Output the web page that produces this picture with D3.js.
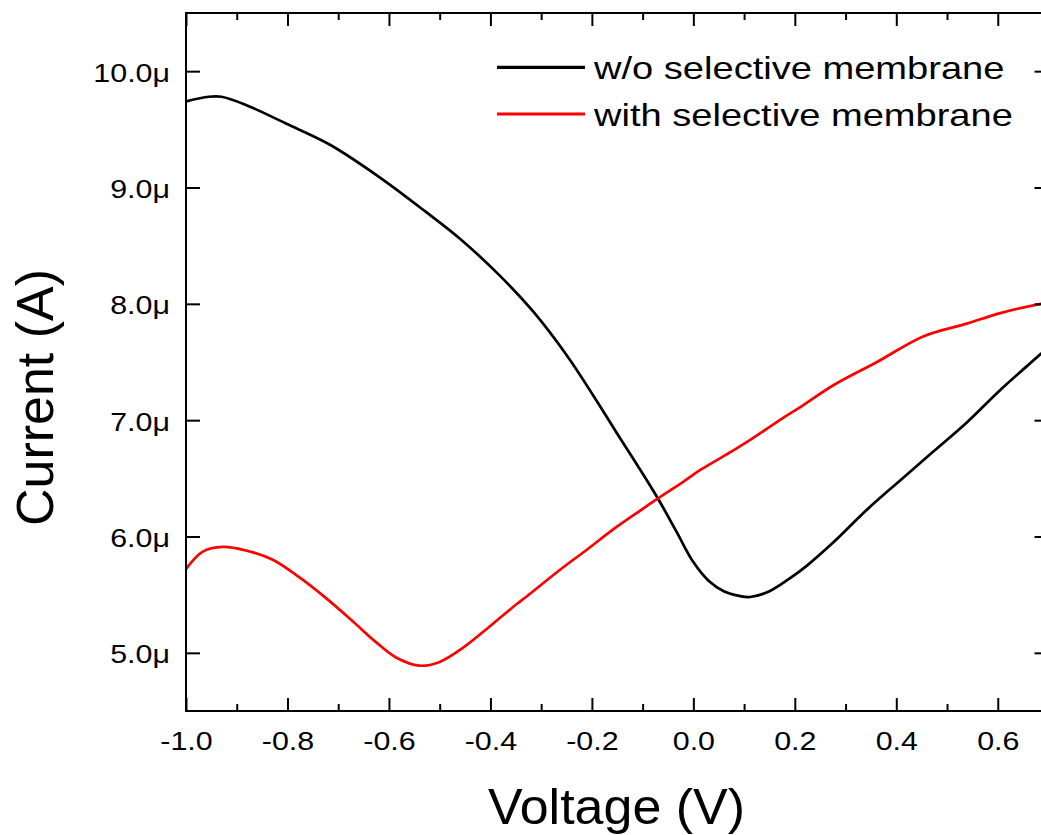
<!DOCTYPE html>
<html>
<head>
<meta charset="utf-8">
<script src="https://cdn.jsdelivr.net/npm/d3@7"></script>
<style>
  html, body { margin: 0; padding: 0; background: #fff; }
  svg { display: block; font-family: "Liberation Sans", Arial, sans-serif; }
</style>
</head>
<body>
<svg id="chart" width="1041" height="835"></svg>
<script>
// ---------- data ----------
const seriesNames = ["w/o selective membrane", "with selective membrane"];
const seriesColors = ["#000000", "#ff0000"];

const voltageWithout = [-1.000, -0.955, -0.930, -0.882, -0.803, -0.717, -0.619, -0.527, -0.460, -0.381, -0.315, -0.250, -0.197, -0.151, -0.110, -0.069, -0.033, 0.000, 0.030, 0.060, 0.090, 0.112, 0.150, 0.190, 0.224, 0.276, 0.342, 0.407, 0.473, 0.539, 0.605, 0.685, 0.700];
const currentWithout = [9.74, 9.78, 9.78, 9.71, 9.55, 9.37, 9.09, 8.79, 8.56, 8.24, 7.93, 7.56, 7.21, 6.89, 6.61, 6.32, 6.04, 5.78, 5.62, 5.53, 5.49, 5.48, 5.53, 5.64, 5.75, 5.95, 6.23, 6.48, 6.73, 6.98, 7.26, 7.57, 7.63];

const voltageWith = [-1.000, -0.967, -0.928, -0.882, -0.829, -0.777, -0.724, -0.671, -0.625, -0.586, -0.540, -0.501, -0.455, -0.395, -0.348, -0.330, -0.264, -0.212, -0.152, -0.099, -0.069, -0.020, 0.013, 0.079, 0.112, 0.177, 0.210, 0.276, 0.362, 0.453, 0.539, 0.605, 0.685, 0.700];
const currentWith = [5.72, 5.87, 5.91, 5.88, 5.80, 5.65, 5.47, 5.27, 5.09, 4.96, 4.89, 4.92, 5.04, 5.25, 5.42, 5.48, 5.71, 5.88, 6.08, 6.24, 6.33, 6.47, 6.57, 6.74, 6.83, 7.02, 7.11, 7.30, 7.50, 7.72, 7.83, 7.92, 8.00, 8.01];

const xMajorTicks = [-1.0, -0.8, -0.6, -0.4, -0.2, 0.0, 0.2, 0.4, 0.6];
const xMinorTicks = [-0.9, -0.7, -0.5, -0.3, -0.1, 0.1, 0.3, 0.5, 0.7];
const yTicks = [5, 6, 7, 8, 9, 10];
const xDomain = [-1.0, 0.7];
const yDomain = [4.5, 10.5];
const xTitle = "Voltage (V)";
const yTitle = "Current (A)";

// ---------- layout ----------
const svg = d3.select("#chart");
const mLeft = 186, mRight = 1048.5, mTop = 13, mBottom = 711;
const x = d3.scaleLinear().domain(xDomain).range([mLeft, mRight]);
const y = d3.scaleLinear().domain(yDomain).range([mBottom, mTop]);

const tickFont = 26, tickScale = 1.17;
const fmtX = d => d.toFixed(1);
const fmtY = d => d.toFixed(1) + "\u03bc";

svg.append("defs").append("clipPath").attr("id", "plotclip")
  .append("rect").attr("x", mLeft).attr("y", mTop).attr("width", mRight - mLeft).attr("height", mBottom - mTop);

// series
const series = [
  { name: seriesNames[0], color: seriesColors[0], pts: voltageWithout.map((v, i) => [v, currentWithout[i]]) },
  { name: seriesNames[1], color: seriesColors[1], pts: voltageWith.map((v, i) => [v, currentWith[i]]) }
];
const line = d3.line().x(d => x(d[0])).y(d => y(d[1])).curve(d3.curveCatmullRom.alpha(0.5));
const plot = svg.append("g").attr("clip-path", "url(#plotclip)");
plot.selectAll("path.series").data(series).join("path")
  .attr("class", "series")
  .attr("d", d => line(d.pts))
  .attr("fill", "none")
  .attr("stroke", d => d.color)
  .attr("stroke-width", 2.7)
  .attr("stroke-linejoin", "round")
  .attr("stroke-linecap", "round");

function styleAxis(g) {
  g.select(".domain").remove();
  g.selectAll(".tick line").attr("stroke", "#000").attr("stroke-width", 2);
}

// bottom axis major with labels
const gB = svg.append("g").attr("transform", `translate(0,${mBottom})`)
  .call(d3.axisBottom(x).tickValues(xMajorTicks).tickSize(-13).tickPadding(21).tickFormat(fmtX));
styleAxis(gB);
gB.selectAll(".tick text").attr("font-size", tickFont).attr("fill", "#000")
  .attr("font-family", "Liberation Sans, Arial, sans-serif")
  .attr("transform", `scale(${tickScale},1)`);
// bottom minor
const gBm = svg.append("g").attr("transform", `translate(0,${mBottom})`)
  .call(d3.axisBottom(x).tickValues(xMinorTicks).tickSize(-7).tickFormat(""));
styleAxis(gBm);
// top axis
const gT = svg.append("g").attr("transform", `translate(0,${mTop})`)
  .call(d3.axisTop(x).tickValues(xMajorTicks).tickSize(-13).tickFormat(""));
styleAxis(gT);
const gTm = svg.append("g").attr("transform", `translate(0,${mTop})`)
  .call(d3.axisTop(x).tickValues(xMinorTicks).tickSize(-7).tickFormat(""));
styleAxis(gTm);

// left axis
const gL = svg.append("g").attr("transform", `translate(${mLeft},0)`)
  .call(d3.axisLeft(y).tickValues(yTicks).tickSize(-14).tickPadding(16).tickFormat(fmtY));
styleAxis(gL);
gL.selectAll(".tick text").attr("font-size", tickFont).attr("fill", "#000")
  .attr("font-family", "Liberation Sans, Arial, sans-serif")
  .attr("x", -16 / tickScale).attr("dy", "0.38em")
  .attr("transform", `scale(${tickScale},1)`);
// right axis
const gR = svg.append("g").attr("transform", `translate(${mRight},0)`)
  .call(d3.axisRight(y).tickValues(yTicks).tickSize(-14).tickFormat(""));
styleAxis(gR);

// frame
svg.append("rect").attr("x", mLeft).attr("y", mTop).attr("width", mRight - mLeft).attr("height", mBottom - mTop)
  .attr("fill", "none").attr("stroke", "#000").attr("stroke-width", 2);

// axis titles
svg.append("text").attr("transform", `translate(616.5,824) scale(1.04,1)`)
  .attr("text-anchor", "middle").attr("font-size", 50).attr("fill", "#000").text(xTitle);
svg.append("text").attr("transform", `translate(53,397.5) rotate(-90)`)
  .attr("text-anchor", "middle").attr("font-size", 52).attr("fill", "#000").text(yTitle);

// legend
const legend = svg.append("g");
const legRows = [67.3, 114];
series.forEach((s, i) => {
  legend.append("line").attr("x1", 497).attr("x2", 585).attr("y1", legRows[i]).attr("y2", legRows[i])
    .attr("stroke", s.color).attr("stroke-width", 3.2);
  legend.append("text").attr("transform", `translate(594,${legRows[i] + 12}) scale(1.19,1)`)
    .attr("font-size", 32).attr("fill", "#000").text(s.name);
});
</script>
</body>
</html>
